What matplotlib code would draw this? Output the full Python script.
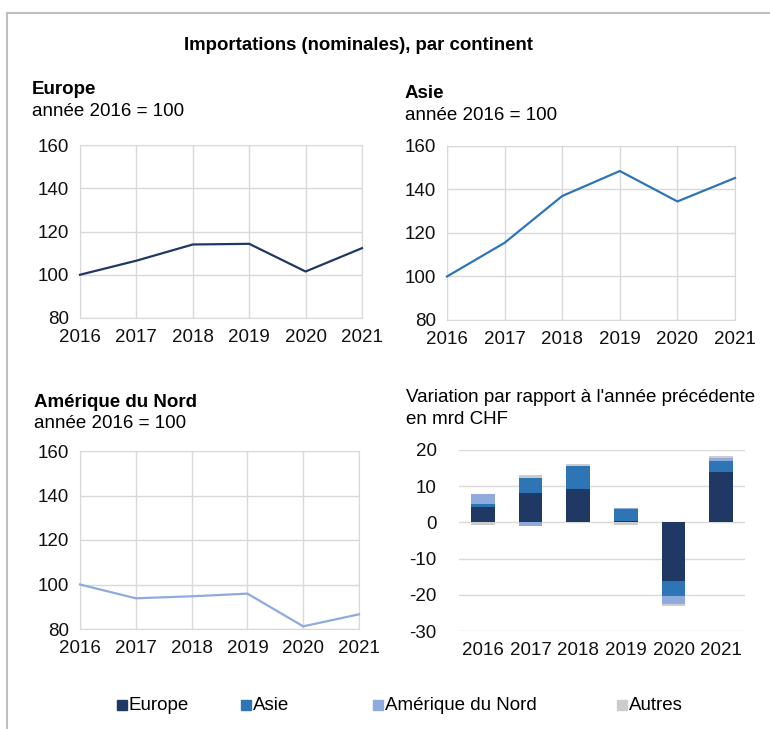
import numpy as np
import matplotlib
matplotlib.use("Agg")
import matplotlib.pyplot as plt
from matplotlib.patches import Rectangle
from matplotlib.lines import Line2D

plt.rcParams['font.family'] = ['Liberation Sans', 'DejaVu Sans']
plt.rcParams['axes.unicode_minus'] = False

# data
years = ['2016', '2017', '2018', '2019', '2020', '2021']
europe_idx = [100, 106.5, 114.0, 114.3, 101.5, 112.3]
asie_idx = [100, 115.5, 137.0, 148.5, 134.5, 145.3]
amn_idx = [100, 93.8, 94.7, 95.9, 81.2, 86.6]

# variation en mrd CHF
europe_var = [4.2, 8.0, 9.2, 0.3, -16.1, 13.9]
asie_var = [0.8, 4.4, 6.4, 3.4, -4.2, 3.0]
amn_var = [2.8, -1.0, 0.1, 0.2, -2.3, 0.8]
autres_var = [-0.6, 0.8, 0.4, -0.6, -0.4, 0.7]

series = ['Europe', 'Asie', 'Amérique du Nord', 'Autres']
colors = ['#203864', '#2e75b6', '#8faadc', '#cccccc']
grid_c = '#d9d9d9'
fs = 13.5

W, H = 770, 729
fig = plt.figure(figsize=(W / 100, H / 100), dpi=100)


def px_axes(x0, y0, x1, y1):
    return fig.add_axes([x0 / W, 1 - y1 / H, (x1 - x0) / W, (y1 - y0) / H])


def line_panel(ax, vals, col):
    x = np.arange(len(years))
    ax.plot(x, vals, color=col, lw=1.6, zorder=3, clip_on=False)
    ax.set_xlim(0, len(years) - 1)
    ax.set_ylim(80, 160)
    ax.set_yticks([80, 100, 120, 140, 160])
    ax.set_xticks(x)
    ax.set_xticklabels(years)
    ax.grid(True, color=grid_c, lw=1)
    for s in ax.spines.values():
        s.set_color(grid_c)
    ax.tick_params(length=0, labelsize=fs, pad=8, colors='#111111')
    ax.set_axisbelow(True)


ax1 = px_axes(80, 145, 362, 318)
line_panel(ax1, europe_idx, colors[0])
ax2 = px_axes(447, 146, 735, 320)
line_panel(ax2, asie_idx, colors[1])
ax3 = px_axes(80, 451, 359, 629)
line_panel(ax3, amn_idx, colors[2])

# stacked bars, positive and negative stacks separately
ax4 = px_axes(459, 450, 745, 631)
x = np.arange(len(years))
pos = np.zeros(len(years))
neg = np.zeros(len(years))
for vals, col in zip([europe_var, asie_var, amn_var, autres_var], colors):
    v = np.array(vals)
    bottom = np.where(v >= 0, pos, neg)
    ax4.bar(x, v, 0.5, bottom=bottom, color=col, zorder=3)
    pos = pos + np.where(v >= 0, v, 0)
    neg = neg + np.where(v < 0, v, 0)
ax4.set_xlim(-0.5, len(years) - 0.5)
ax4.set_ylim(-30, 20)
ax4.set_yticks([-30, -20, -10, 0, 10, 20])
ax4.set_xticks(x)
ax4.set_xticklabels(years)
ax4.yaxis.grid(True, color=grid_c, lw=1)
ax4.set_axisbelow(True)
for s in ax4.spines.values():
    s.set_visible(False)
ax4.tick_params(length=0, labelsize=fs, pad=16, colors='#111111')
ax4.tick_params(axis='x', pad=8)

# texts
fig.text(359 / W, 1 - 45 / H, 'Importations (nominales), par continent',
         ha='center', va='center', fontsize=13.4, fontweight='bold')
heads = [(32, 90, 'Europe'), (405, 93, 'Asie'), (34, 402, 'Amérique du Nord')]
for hx, hy, t in heads:
    fig.text(hx / W, 1 - hy / H, t, ha='left', va='center', fontsize=fs, fontweight='bold')
    fig.text(hx / W, 1 - (hy + 22) / H, 'année 2016 = 100', ha='left', va='center', fontsize=fs)
fig.text(406 / W, 1 - 397 / H, "Variation par rapport à l'année précédente",
         ha='left', va='center', fontsize=fs)
fig.text(406 / W, 1 - 419 / H, 'en mrd CHF', ha='left', va='center', fontsize=fs)

# legend
leg_x = [117, 241, 373, 617]
for lx, lab, col in zip(leg_x, series, colors):
    fig.patches.append(Rectangle((lx / W, 1 - 710 / H), 10 / W, 10 / H,
                                 transform=fig.transFigure, color=col))
    fig.text((lx + 12) / W, 1 - 705 / H, lab, ha='left', va='center', fontsize=fs)

# frame
fig.lines.append(Line2D([7 / W, 7 / W], [0, 1 - 13 / H], transform=fig.transFigure,
                        color='#bfbfbf', lw=1.5))
fig.lines.append(Line2D([7 / W, 1], [1 - 13 / H, 1 - 13 / H], transform=fig.transFigure,
                        color='#bfbfbf', lw=1.5))

fig.savefig('out.png', dpi=100)
